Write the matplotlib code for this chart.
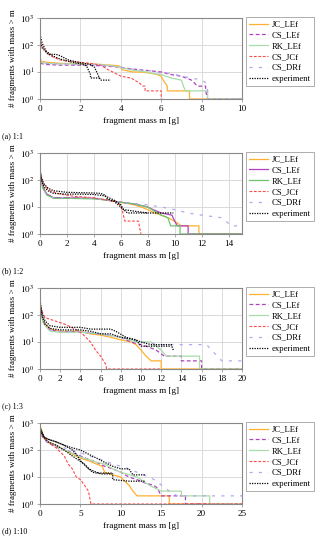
import matplotlib
matplotlib.use("Agg")
import matplotlib.pyplot as plt

plt.rcParams['font.family'] = ['Liberation Serif', 'DejaVu Serif']
plt.rcParams['mathtext.fontset'] = 'stix'

series_names = ["JC_LEf", "CS_LEf", "RK_LEf", "CS_JCf", "CS_DRf", "experiment"]
panel_titles = ["(a) 1:1", "(b) 1:2", "(c) 1:3", "(d) 1:10"]
panel_xmax = [10, 15, 20, 25]
panel_xticks = [[0, 2, 4, 6, 8, 10], [0, 2, 4, 6, 8, 10, 12, 14],
                [0, 2, 4, 6, 8, 10, 12, 14, 16, 18, 20], [0, 5, 10, 15, 20, 25]]
y_ticks = [1, 10, 100, 1000]
y_tick_labels = [r"$10^0$", r"$10^1$", r"$10^2$", r"$10^3$"]

# ---------- (a) 1:1 ----------
a_JC_x = [0, 0.3, 1, 2, 3, 3.9, 4.1, 4.6, 5.0, 5.5, 5.8, 6.0, 6.1, 6.3, 6.3, 7.4, 7.4, 10]
a_JC_y = [26, 23, 21, 20, 19, 17, 12, 10, 10, 9, 8, 7, 5, 3, 2, 2, 1, 1]
a_CSLE_x = [0, 0.3, 1, 2, 3, 4, 4.5, 5, 5.5, 6, 6.5, 7, 7.5, 7.8, 8.2, 8.2, 8.3, 10]
a_CSLE_y = [21, 19, 18, 18, 17, 15, 13, 12, 11, 10, 8, 7, 5, 3, 3, 2, 1, 1]
a_RK_x = [0, 0.3, 1, 2, 3, 4, 4.5, 5.3, 5.5, 6.0, 6.5, 7.0, 7.1, 7.2, 8.3, 8.3, 10]
a_RK_y = [23, 21, 20, 20, 19, 15, 12, 10, 9, 8, 6, 5, 3, 2, 2, 1, 1]
a_CSJC_x = [0, 0.2, 0.5, 1, 1.5, 2, 2.5, 3, 3.3, 3.6, 4.0, 4.5, 4.9, 5.1, 5.2, 5.2, 6.0, 6.0]
a_CSJC_y = [120, 70, 40, 28, 24, 23, 21, 18, 13, 10, 7, 6, 4, 3, 3, 2, 2, 1]
a_CSDR_x = [0, 0.1, 0.5, 1, 2, 3, 4, 4.5, 5, 5.5, 6, 6.5, 7, 7.5, 8, 8.2, 8.3, 8.3, 10]
a_CSDR_y = [35, 22, 20, 20, 19, 18, 15, 13, 12, 11, 9, 9, 7, 6, 5, 4, 2, 1, 1]
a_exp1_x = [0, 0.1, 0.3, 0.6, 1.0, 1.5, 2.0, 2.3, 2.5, 2.5, 3.0]
a_exp1_y = [250, 120, 60, 40, 30, 24, 20, 17, 8, 6, 6]
a_exp2_x = [0, 0.1, 0.4, 0.8, 1.0, 1.4, 2.0, 2.5, 2.7, 2.9, 3.0, 3.5]
a_exp2_y = [150, 80, 45, 45, 40, 28, 22, 19, 15, 7, 5, 5]

# ---------- (b) 1:2 ----------
b_JC_x = [0, 0.2, 0.5, 1, 2, 4, 5, 6, 7, 7.5, 8, 8.5, 9, 9.5, 10, 10.5, 11.8, 11.8, 15]
b_JC_y = [250, 60, 30, 22, 22, 21, 18, 15, 12, 10, 8, 6, 5, 4, 3, 2, 2, 1, 1]
b_CSLE_x = [0, 0.2, 0.5, 1, 2, 4, 5, 6, 7, 8, 8.4, 9, 9.8, 10, 10.2, 11, 11, 15]
b_CSLE_y = [220, 55, 30, 22, 22, 21, 18, 15, 13, 10, 8, 6, 5, 3, 2, 2, 1, 1]
b_RK_x = [0, 0.2, 0.5, 1, 2, 4, 5, 6, 7, 8, 8.5, 9, 9.5, 9.7, 10.4, 10.4, 15]
b_RK_y = [200, 50, 28, 21, 21, 20, 18, 15, 13, 10, 7, 5, 4, 2, 2, 1, 1]
b_CSJC_x = [0, 0.3, 0.7, 1.5, 2.5, 4, 5, 5.8, 6.1, 6.3, 7.3, 7.5]
b_CSJC_y = [150, 70, 40, 30, 25, 22, 18, 15, 8, 3, 3, 1]
b_CSDR_x = [0, 0.2, 0.5, 1, 2, 4, 5, 6, 8, 9, 10, 11, 12, 13.5, 13.8, 14.2, 15]
b_CSDR_y = [180, 50, 28, 22, 22, 21, 18, 15, 12, 10, 8, 6, 5, 4, 3, 2, 2]
b_exp1_x = [0, 0.1, 0.3, 0.6, 1, 2, 3, 4, 4.5, 4.8, 5.0, 5.5, 6.0, 6.2, 7, 8, 9.9]
b_exp1_y = [250, 120, 70, 50, 40, 35, 34, 33, 32, 28, 20, 16, 10, 8, 7, 6, 6]
b_exp2_x = [0, 0.1, 0.3, 0.6, 1, 2, 3, 4, 4.8, 5.5, 6, 6.2, 6.5, 7.5, 8]
b_exp2_y = [180, 100, 55, 40, 32, 30, 30, 29, 26, 18, 12, 8, 6, 6, 6]

# ---------- (c) 1:3 ----------
c_JC_x = [0, 0.3, 1, 2, 4, 5, 6, 7, 8, 9, 9.5, 10, 10.5, 11, 12, 12, 20]
c_JC_y = [300, 60, 30, 25, 25, 20, 18, 15, 12, 10, 8, 5, 3, 2, 2, 1, 1]
c_CSLE_x = [0, 0.3, 1, 2, 4, 5, 6, 8, 9, 10, 11, 11.5, 12.3, 14, 14, 16, 16, 20]
c_CSLE_y = [250, 55, 28, 24, 24, 21, 20, 15, 10, 8, 6, 5, 3, 3, 2, 2, 1, 1]
c_RK_x = [0, 0.3, 1, 2, 4, 6, 8, 9.5, 11, 11.5, 12, 12.5, 15.8, 15.8, 20]
c_RK_y = [220, 50, 25, 23, 23, 20, 15, 10, 10, 7, 5, 3, 3, 1, 1]
c_CSJC_x = [0, 0.5, 1.5, 2.5, 3.5, 4.2, 5, 5.5, 6, 6.5, 6.6, 12]
c_CSJC_y = [200, 80, 60, 45, 30, 20, 10, 5, 3, 1.5, 1, 1]
c_CSDR_x = [0, 0.3, 1, 2, 4, 6, 8, 10, 12, 13, 16.5, 17, 18, 20]
c_CSDR_y = [250, 55, 28, 25, 24, 20, 15, 10, 8, 8, 8, 5, 2, 2]
c_exp1_x = [0, 0.2, 0.5, 1, 2, 4, 5, 7, 7.5, 8.5, 9.5, 10, 11, 13, 13.2]
c_exp1_y = [350, 120, 60, 40, 35, 35, 30, 30, 25, 15, 12, 10, 8, 8, 5]
c_exp2_x = [0, 0.2, 0.5, 1, 2, 4, 5, 6, 7, 8, 9.5, 10, 13]
c_exp2_y = [250, 90, 45, 32, 28, 28, 25, 20, 20, 15, 12, 7, 7]

# ---------- (d) 1:10 ----------
d_JC_x = [0, 0.5, 1, 2, 3, 4, 5, 6, 7, 7.7, 8, 9, 10, 10.5, 11, 11.5, 12, 16, 16, 25]
d_JC_y = [800, 300, 200, 150, 100, 70, 50, 40, 30, 25, 15, 12, 10, 7, 5, 3, 2, 2, 1, 1]
d_CSLE_x = [0, 0.5, 1, 2, 3, 4, 5, 6, 7, 8, 9, 10, 11, 12, 13, 14, 14.5, 15, 18, 18, 25]
d_CSLE_y = [600, 250, 180, 130, 100, 80, 60, 45, 35, 25, 20, 15, 10, 8, 6, 5, 4, 2, 2, 1, 1]
d_RK_x = [0, 0.5, 1, 2, 3, 4, 5, 6, 7, 8, 9, 10, 12, 13.5, 15, 17.5, 17.5, 21, 21, 25]
d_RK_y = [700, 280, 190, 140, 100, 75, 55, 45, 35, 30, 20, 15, 10, 5, 3, 3, 2, 2, 1, 1]
d_CSJC_x = [0, 0.3, 1, 2, 3, 3.5, 4, 4.5, 5, 5.5, 6, 6.3, 25]
d_CSJC_y = [500, 300, 200, 120, 60, 30, 20, 10, 8, 5, 3, 1, 1]
d_CSDR_x = [0, 0.5, 1, 2, 3, 4, 5, 6, 7, 8, 9, 10, 11, 12, 13.5, 14.5, 15, 16, 17, 25]
d_CSDR_y = [400, 250, 200, 150, 120, 100, 80, 60, 50, 40, 30, 25, 20, 15, 10, 7, 5, 3, 2, 2]
d_exp1_x = [0, 0.5, 1, 2, 3, 4, 5, 6, 7, 8, 9, 10, 11, 11.5, 13]
d_exp1_y = [700, 300, 250, 200, 150, 120, 100, 70, 50, 35, 25, 20, 20, 12, 12]
d_exp2_x = [0, 0.5, 1, 2, 3, 4, 4.5, 5, 6, 7, 7.5, 9, 9, 11, 13]
d_exp2_y = [500, 300, 250, 200, 150, 100, 70, 40, 20, 15, 13, 13, 8, 7, 7]
d_exp3_x = [0, 0.5, 1, 2, 3, 4, 5.5, 6.5, 7, 9]
d_exp3_y = [600, 300, 200, 150, 100, 60, 30, 15, 14, 14]

panels = [
    [(a_JC_x, a_JC_y), (a_CSLE_x, a_CSLE_y), (a_RK_x, a_RK_y), (a_CSJC_x, a_CSJC_y),
     (a_CSDR_x, a_CSDR_y), [(a_exp1_x, a_exp1_y), (a_exp2_x, a_exp2_y)]],
    [(b_JC_x, b_JC_y), (b_CSLE_x, b_CSLE_y), (b_RK_x, b_RK_y), (b_CSJC_x, b_CSJC_y),
     (b_CSDR_x, b_CSDR_y), [(b_exp1_x, b_exp1_y), (b_exp2_x, b_exp2_y)]],
    [(c_JC_x, c_JC_y), (c_CSLE_x, c_CSLE_y), (c_RK_x, c_RK_y), (c_CSJC_x, c_CSJC_y),
     (c_CSDR_x, c_CSDR_y), [(c_exp1_x, c_exp1_y), (c_exp2_x, c_exp2_y)]],
    [(d_JC_x, d_JC_y), (d_CSLE_x, d_CSLE_y), (d_RK_x, d_RK_y), (d_CSJC_x, d_CSJC_y),
     (d_CSDR_x, d_CSDR_y), [(d_exp1_x, d_exp1_y), (d_exp2_x, d_exp2_y), (d_exp3_x, d_exp3_y)]],
]

# styles per panel (b uses solid purple / darker green)
def styles(idx):
    purple_ls = '-' if idx == 1 else (0, (3, 2))
    green = '#6cc46c' if idx == 1 else '#a8dca8'
    return [
        dict(color='#ffb030', ls='-', lw=0.9),
        dict(color='#b040c0', ls=purple_ls, lw=0.9),
        dict(color=green, ls='-', lw=0.9),
        dict(color='#ff4848', ls=(0, (2.5, 1.5)), lw=0.8),
        dict(color='#b4a8f0', ls=(0, (2.5, 5)), lw=0.9),
        dict(color='black', ls=(0, (1, 1)), lw=0.9),
    ]

fig = plt.figure(figsize=(3.15, 5.5), dpi=100)
W, H = 315, 550
ax_left, ax_right = 40, 242
tops = [18, 153, 288, 423]
ax_h = 81
label_y = [136, 271, 406, 531]

for i, data in enumerate(panels):
    top = tops[i]
    ax = fig.add_axes([ax_left / W, 1 - (top + ax_h) / H, (ax_right - ax_left) / W, ax_h / H])
    st = styles(i)
    for k, name in enumerate(series_names):
        if k < 5:
            x, y = data[k]
            ax.plot(x, y, label=name, **st[k])
        else:
            for j, (x, y) in enumerate(data[k]):
                ax.plot(x, y, label=name if j == 0 else None, **st[k])
    ax.set_yscale('log')
    ax.set_ylim(1, 1000)
    ax.set_xlim(0, panel_xmax[i])
    ax.set_xticks(panel_xticks[i])
    ax.set_yticks(y_ticks)
    ax.set_yticklabels(y_tick_labels)
    ax.minorticks_off()
    ax.tick_params(labelsize=6.6, length=2, width=0.5, color='#888888', pad=2)
    ax.grid(True, color='#d4d4d4', lw=0.6)
    ax.set_axisbelow(True)
    for s in ax.spines.values():
        s.set_color('#888888')
        s.set_linewidth(0.8)
    ax.set_xlabel('fragment mass m [g]', fontsize=6.6, labelpad=3)
    ax.set_ylabel('# fragments with mass > m', fontsize=6.5, labelpad=2)
    leg = ax.legend(loc='upper left', bbox_to_anchor=(1.02, 1.01), fontsize=6.2,
                    frameon=True, fancybox=False, edgecolor='#888888', handlelength=2.2,
                    handletextpad=0.4, labelspacing=0.32, borderpad=0.4, borderaxespad=0)
    leg.get_frame().set_linewidth(0.6)
    fig.text(2 / W, 1 - label_y[i] / H, panel_titles[i], fontsize=5.8, va='center', ha='left')

fig.savefig('out.png', dpi=100)
